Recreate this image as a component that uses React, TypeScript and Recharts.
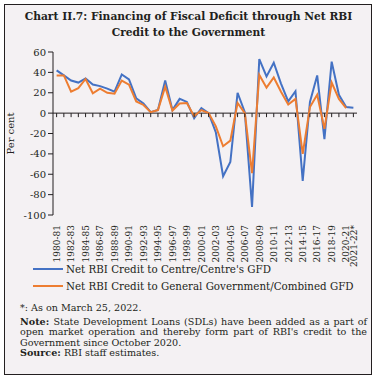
import { ComposedChart, Line, Scatter, XAxis, YAxis, ReferenceLine, Label } from "recharts";

// Fiscal years on the category axis
const years = [
  "1980-81", "1981-82", "1982-83", "1983-84", "1984-85", "1985-86", "1986-87",
  "1987-88", "1988-89", "1989-90", "1990-91", "1991-92", "1992-93", "1993-94",
  "1994-95", "1995-96", "1996-97", "1997-98", "1998-99", "1999-00", "2000-01",
  "2001-02", "2002-03", "2003-04", "2004-05", "2005-06", "2006-07", "2007-08",
  "2008-09", "2009-10", "2010-11", "2011-12", "2012-13", "2013-14", "2014-15",
  "2015-16", "2016-17", "2017-18", "2018-19", "2019-20", "2020-21", "2021-22*",
];

// Net RBI credit to Centre / Centre's GFD (per cent)
const centre = [
  42, 37, 32, 30, 34, 28, 26.5, 24, 21, 38, 33, 14.5, 9.5, 1, 3, 32, 3, 14, 11, -5,
  5, 0, -19, -62, -48, 20, 1, -92, 53, 36, 49.5, 29, 11.5, 21.5, -66.5, 11, 37, -25.5,
  50.5, 18, 6, 5.3,
];

// Net RBI credit to General Government / Combined GFD (per cent)
const general: (number | null)[] = [
  37, 37, 21, 24.5, 33.5, 19.5, 24, 20, 19, 32, 28, 11.5, 8, 1, 3, 26, 2.5, 9.5, 10,
  -3, 3, 0, -13, -32.5, -27, 10, 0, -59, 37.5, 25, 35, 21, 8.5, 14, -40, 6, 18, -15.5,
  30, 14, 5, null,
];

const shownTicks = [
  "1980-81", "1982-83", "1984-85", "1986-87", "1988-89", "1990-91", "1992-93",
  "1994-95", "1996-97", "1998-99", "2000-01", "2002-03", "2004-05", "2006-07",
  "2008-09", "2010-11", "2012-13", "2014-15", "2016-17", "2018-19", "2020-21", "2021-22*",
];
const yTicks = [-100, -80, -60, -40, -20, 0, 20, 40, 60];

const BLUE = "#4472c4";
const ORANGE = "#ed7d31";
const INK = "#231f20";
const SERIF = "'DejaVu Serif', serif";

const data = years.map((y, i) => ({ year: y, centre: centre[i], general: general[i] }));

function YearTick({ x, y, payload }: any) {
  return (
    <text
      x={0}
      y={0}
      transform={`translate(${x + 3.3},${y + 2}) rotate(-90)`}
      textAnchor="end"
      fontSize={9}
      fontFamily={SERIF}
      fill={INK}
    >
      {payload.value}
    </text>
  );
}

// small tick marks hanging under the zero line
const ZeroTick = ({ cx, cy }: any) => (
  <line x1={cx} x2={cx} y1={cy} y2={cy + 4} stroke={INK} strokeWidth={1} />
);

export default function App() {
  return (
    <div style={{ position: "absolute", left: 0, top: 0, width: 377, height: 377, background: "#fff", fontFamily: SERIF }}>
      <div
        style={{
          position: "absolute", left: 4, top: 4, width: 366, height: 369,
          border: `1px solid ${INK}`, background: "#f4f1f3",
        }}
      />
      <div
        style={{
          position: "absolute", left: 0, top: 9, width: 377, textAlign: "center",
          fontWeight: "bold", fontSize: 10.7, lineHeight: "16px", color: INK,
        }}
      >
        Chart II.7: Financing of Fiscal Deficit through Net RBI
        <br />
        Credit to the Government
      </div>

      <div style={{ position: "absolute", left: 0, top: 0 }}>
        <ComposedChart width={377} height={268} data={data} margin={{ top: 52, right: 20, left: 0, bottom: 6 }}>
          <XAxis
            dataKey="year"
            scale="band"
            ticks={shownTicks}
            interval={0}
            tick={<YearTick />}
            axisLine={false}
            tickLine={false}
            height={47}
          />
          <YAxis
            domain={[-100, 60]}
            ticks={yTicks}
            width={53}
            tickSize={5}
            tickMargin={2}
            axisLine={{ stroke: INK }}
            tickLine={{ stroke: INK }}
            tick={{ fontSize: 10, fontFamily: SERIF, fill: INK }}
          >
            <Label
              value="Per cent"
              angle={-90}
              position="insideLeft"
              offset={10}
              style={{ fontSize: 10, fontFamily: SERIF, fill: INK, textAnchor: "middle" }}
            />
          </YAxis>
          <ReferenceLine y={0} stroke={INK} strokeWidth={1} />
          <Scatter dataKey={() => 0} shape={<ZeroTick />} isAnimationActive={false} legendType="none" />
          <Line dataKey="centre" stroke={BLUE} strokeWidth={2} dot={false} isAnimationActive={false} />
          <Line dataKey="general" stroke={ORANGE} strokeWidth={2} dot={false} isAnimationActive={false} />
        </ComposedChart>
      </div>

      <div style={{ position: "absolute", left: 33, top: 261, fontSize: 10.3, color: INK, lineHeight: "16.5px" }}>
        {[
          { c: BLUE, t: "Net RBI Credit to Centre/Centre's GFD" },
          { c: ORANGE, t: "Net RBI Credit to General Government/Combined GFD" },
        ].map((e) => (
          <div key={e.t} style={{ display: "flex", alignItems: "center" }}>
            <span style={{ display: "inline-block", width: 30, height: 2, background: e.c, marginRight: 3 }} />
            <span>{e.t}</span>
          </div>
        ))}
      </div>

      <div
        style={{
          position: "absolute", left: 20, top: 303, width: 347, fontSize: 9.6, lineHeight: "10.6px",
          color: INK, textAlign: "justify",
        }}
      >
        <div style={{ marginBottom: 3 }}>*: As on March 25, 2022.</div>
        <div>
          <b>Note: </b>State Development Loans (SDLs) have been added as a part of open market operation
          and thereby form part of RBI's credit to the Government since October 2020.
        </div>
        <div>
          <b>Source:</b> RBI staff estimates.
        </div>
      </div>
    </div>
  );
}
